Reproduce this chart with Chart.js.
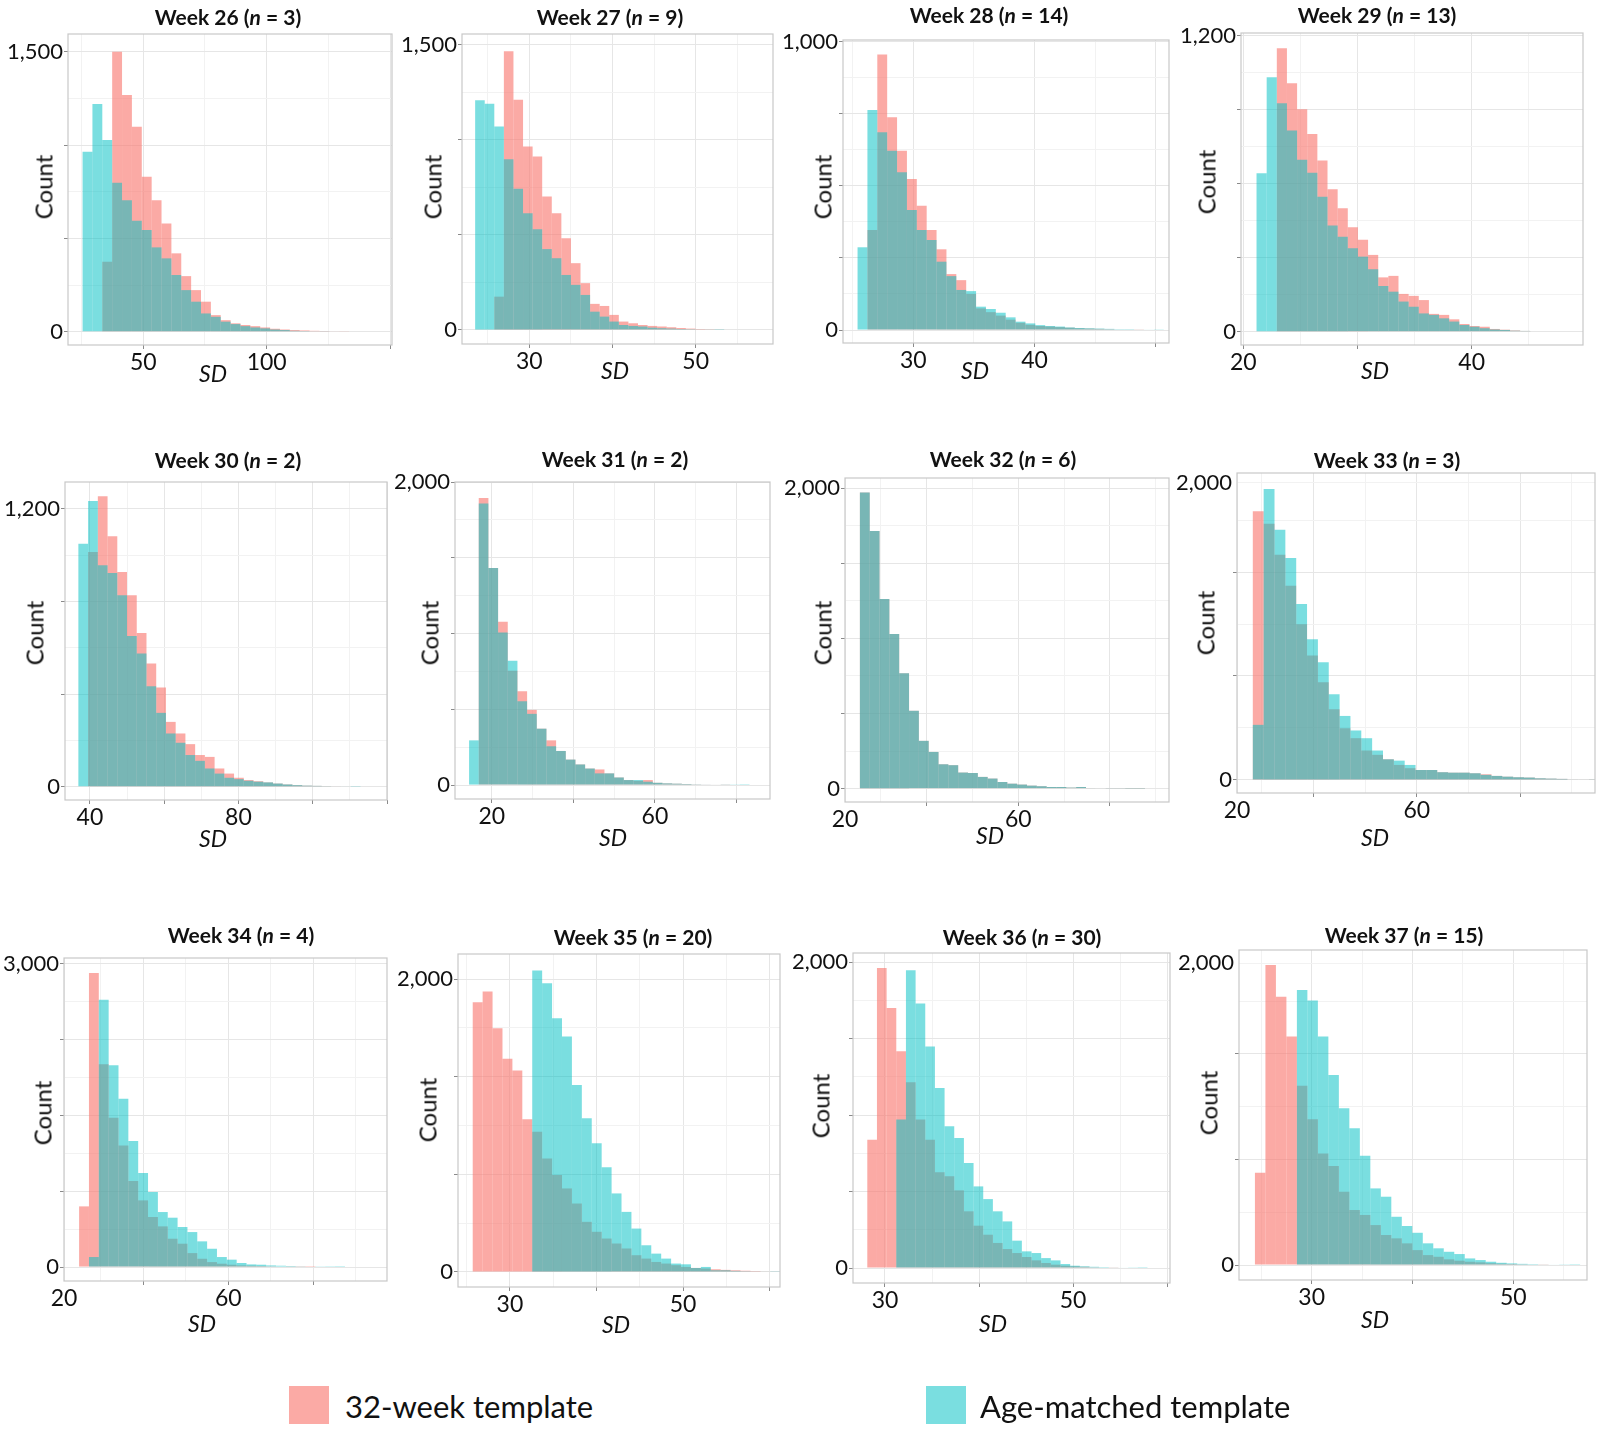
<!DOCTYPE html>
<html>
<head>
<meta charset="utf-8">
<script src="https://cdn.jsdelivr.net/npm/chart.js@4.4.1/dist/chart.umd.min.js"></script>
<style>
  body { margin: 0; background: #fff; width: 1601px; height: 1429px; position: relative; overflow: hidden; font-family: Lato, "Open Sans", sans-serif; color: #111; }
  canvas { position: absolute; }
  .title { position: absolute; font-weight: bold; font-size: 21px; transform: translate(-50%, -50%); white-space: nowrap; }
  .ylab { position: absolute; font-size: 24px; transform: translate(-50%, -50%) rotate(-90deg); white-space: nowrap; }
  .xlab { position: absolute; font-size: 23px; font-style: italic; transform: translate(-50%, -50%); white-space: nowrap; }
  .key { position: absolute; width: 40px; height: 38px; }
  .ktext { position: absolute; font-size: 31px; transform: translateY(-50%); white-space: nowrap; }
</style>
</head>
<body>
<script>
// panels: gestational week and number of cases
const weeks = [26, 27, 28, 29, 30, 31, 32, 33, 34, 35, 36, 37];
const nCases = [3, 9, 14, 13, 2, 2, 6, 3, 4, 20, 30, 15];

// histogram bins (left edge of first bin, bin width), in SD units
const binStart = [25.4, 23.48, 25.4, 21.16, 36.9, 14.45, 25.45, 28.26, 24.86, 25.7, 28.12, 24.38];
const binWidth = [4.0, 1.152, 0.815, 0.888, 2.62, 2.37, 2.145, 2.1, 2.32, 1.146, 1.027, 1.04];

// counts per bin, 32-week template
const template32 = [
  [0, 0, 375, 1500, 1268, 1098, 830, 705, 580, 420, 298, 223, 161, 89, 62, 45, 36, 30, 23, 16, 12, 9, 7, 5, 4, 3, 2],
  [0, 0, 175, 1465, 1210, 965, 912, 702, 614, 482, 351, 246, 137, 126, 79, 44, 35, 26, 21, 18, 14, 10, 7, 5, 4, 3],
  [0, 347, 956, 738, 622, 524, 431, 347, 280, 194, 173, 125, 75, 62, 50, 36, 25, 18, 14, 12, 10, 8, 6, 5, 4, 3, 2, 2, 1],
  [0, 0, 1148, 1006, 901, 801, 693, 577, 500, 423, 372, 311, 220, 226, 153, 145, 128, 72, 68, 50, 31, 23, 20, 11, 8, 5, 3, 2],
  [0, 1013, 1253, 1081, 927, 826, 664, 532, 428, 280, 230, 184, 137, 129, 79, 57, 39, 29, 24, 19, 14, 10, 7, 5, 4, 3, 2],
  [0, 1895, 1432, 1078, 754, 619, 496, 372, 295, 225, 168, 136, 109, 103, 77, 50, 33, 28, 33, 15, 11, 9, 7, 5, 4, 3, 2],
  [1971, 1715, 1262, 1029, 767, 518, 318, 244, 162, 156, 107, 104, 78, 67, 44, 33, 27, 20, 16, 11, 11, 7, 11, 4, 3, 2, 2, 1, 1],
  [1809, 1726, 1517, 1308, 1049, 838, 658, 476, 348, 281, 198, 169, 139, 101, 79, 67, 67, 52, 49, 49, 45, 38, 27, 22, 18, 16, 11, 9, 7, 4, 3, 2],
  [600, 2908, 2005, 1477, 1203, 851, 659, 495, 402, 280, 231, 138, 82, 49, 33, 23, 16, 13, 10, 7, 5, 3, 2, 1],
  [1842, 1915, 1664, 1455, 1375, 1042, 958, 775, 661, 570, 467, 342, 274, 228, 194, 160, 114, 91, 68, 57, 46, 34, 27, 23, 18, 14, 11, 8, 6, 4, 3, 2],
  [840, 1963, 1701, 1418, 1215, 971, 840, 626, 600, 508, 371, 277, 218, 164, 124, 98, 72, 50, 33, 22, 15, 11, 8, 5, 3, 2],
  [612, 1989, 1779, 1514, 1189, 966, 740, 656, 486, 365, 332, 265, 199, 177, 144, 99, 66, 55, 38, 29, 22, 18, 12, 9, 7, 5, 3, 2]
];

// counts per bin, age-matched template
const ageMatched = [
  [964, 1220, 1027, 798, 705, 595, 545, 452, 393, 304, 223, 161, 98, 80, 54, 41, 30, 23, 18, 12, 9, 5, 4, 3, 2],
  [1207, 1189, 1070, 898, 742, 614, 530, 425, 377, 289, 237, 184, 96, 70, 44, 26, 21, 18, 12, 9, 7, 5, 4, 3, 2, 1],
  [287, 763, 686, 622, 547, 416, 347, 312, 237, 187, 139, 135, 81, 73, 60, 44, 29, 23, 17, 14, 12, 9, 7, 6, 5, 4, 3, 3, 2, 2, 1],
  [642, 1031, 925, 815, 696, 644, 547, 430, 385, 338, 304, 253, 185, 162, 122, 101, 74, 68, 54, 41, 27, 20, 14, 9, 7, 4, 3, 2],
  [1049, 1233, 956, 922, 826, 651, 575, 434, 319, 230, 190, 137, 112, 79, 57, 39, 33, 26, 22, 19, 14, 10, 7, 5, 4, 3, 2, 2, 1],
  [295, 1858, 1432, 1006, 820, 553, 470, 372, 256, 225, 168, 136, 109, 77, 77, 50, 33, 33, 22, 15, 11, 9, 7, 5, 4, 3, 2, 2, 1],
  [1971, 1715, 1262, 1029, 767, 518, 318, 244, 162, 156, 107, 104, 78, 67, 44, 33, 27, 20, 16, 11, 11, 7, 11, 4, 3, 2, 2, 1, 1],
  [371, 1959, 1685, 1494, 1184, 948, 793, 577, 431, 333, 281, 198, 139, 130, 101, 67, 67, 52, 49, 49, 45, 34, 27, 22, 18, 16, 11, 9, 7, 4, 3, 2],
  [0, 99, 2644, 1995, 1665, 1246, 930, 742, 544, 488, 396, 346, 254, 181, 99, 73, 40, 26, 23, 16, 13, 10, 7, 5, 3, 2, 1],
  [0, 0, 0, 0, 0, 0, 2059, 1972, 1733, 1607, 1277, 1049, 878, 714, 536, 410, 296, 182, 125, 91, 57, 52, 27, 34, 11, 11, 7, 5, 4, 3, 2, 1],
  [0, 0, 0, 971, 1948, 1730, 1450, 1178, 927, 851, 687, 534, 451, 371, 305, 179, 109, 98, 65, 50, 26, 15, 11, 8, 6, 4, 3, 2, 1],
  [0, 0, 0, 0, 1823, 1753, 1514, 1260, 1039, 906, 725, 508, 453, 320, 259, 214, 144, 111, 88, 73, 44, 33, 22, 15, 11, 8, 6, 4, 3, 2, 1]
];

// axes
const xRange = [[19.5, 150.8], [21.9, 59.3], [24.2, 51.1], [19.8, 49.75], [33.3, 120], [11, 88.2],
                [22.2, 92.9], [25.2, 94.5], [21.3, 97.4], [24, 61.2], [26.6, 60.3], [22.8, 57.3]];
const xStep = [25, 5, 5, 5, 10, 10, 10, 10, 10, 5, 5, 5];
const xMajor = [50, 10, 10, 10, 20, 20, 20, 20, 20, 10, 10, 10];
const xTickLabels = [[50, 100], [30, 50], [30, 40], [20, 40], [40, 80], [20, 60], [60], [60], [60], [30, 50], [30, 50], [30, 50]];
const xEdgeLabel = [null, null, null, null, null, null, '20', '20', '20', null, null, null];
const yRange = [[-71, 1595], [-74, 1556], [-45, 1006], [-54, 1210], [-57, 1315], [-92, 2000],
                [-89, 2067], [-88, 2067], [-138, 3056], [-103, 2171], [-98, 2061], [-99, 2088]];
const yTop = [1500, 1500, 1000, 1200, 1200, 2000, 2000, 2000, 3000, 2000, 2000, 2000];
const yStep = [250, 250, 125, 150, 200, 250, 250, 350, 375, 2000 / 6, 250, 350];
const yMajor = [500, 500, 250, 300, 400, 500, 500, 700, 750, 4000 / 6, 500, 700];

// where each panel sits on the page: plot box [left, top, right, bottom]
const plotBox = [
  [68, 34, 392, 345], [462, 34, 773, 344], [843, 40, 1169, 343], [1241, 33, 1583, 345],
  [65, 482, 387, 800], [455, 482, 770, 799], [845, 478, 1169, 802], [1237, 473, 1595, 793],
  [64, 958, 387, 1281], [458, 954, 780, 1287], [853, 953, 1170, 1283], [1239, 950, 1587, 1280]
];
const titlePos = [[228, 16], [610, 16], [989, 14], [1377, 14], [228, 459], [615, 458], [1003, 458], [1387, 459],
                  [241, 934], [633, 936], [1022, 936], [1404, 934]];
const countPos = [[43, 187], [432, 187], [822, 187], [1206, 182], [34, 633], [429, 633], [822, 633], [1205, 623],
                  [42, 1113], [427, 1110], [820, 1106], [1208, 1103]];
const sdPos = [[213, 373], [615, 370], [975, 370], [1375, 370], [213, 838], [613, 837], [990, 835], [1375, 837],
               [202, 1323], [616, 1324], [993, 1323], [1375, 1319]];

const SALMON = 'rgba(248,118,109,0.62)';
const TEAL = 'rgba(0,191,196,0.52)';

function gridValues(min, max, step) {
  const out = [];
  for (let k = Math.ceil(min / step - 1e-9); k * step <= max + 1e-9; k++) out.push(+(k * step).toFixed(6));
  return out;
}
const near = (a, b) => Math.abs(a - b) < 1e-6;
const isMajor = (v, m) => near(v / m, Math.round(v / m));

// panel border like ggplot
const framePlugin = {
  id: 'frame',
  afterDraw(chart) {
    const { ctx, chartArea: a } = chart;
    ctx.save();
    ctx.strokeStyle = '#c8c8c8';
    ctx.lineWidth = 1.2;
    ctx.strokeRect(a.left, a.top, a.right - a.left, a.bottom - a.top);
    ctx.restore();
  }
};

function addText(cls, html, x, y) {
  const d = document.createElement('div');
  d.className = cls;
  d.innerHTML = html;
  d.style.left = x + 'px';
  d.style.top = y + 'px';
  document.body.appendChild(d);
}

const PAD_L = 70, PAD_T = 20, PAD_R = 10, PAD_B = 32;

weeks.forEach((wk, p) => {
  const [L, T, R, B] = plotBox[p];
  const canvas = document.createElement('canvas');
  canvas.width = R - L + PAD_L + PAD_R;
  canvas.height = B - T + PAD_T + PAD_B;
  canvas.style.left = (L - PAD_L) + 'px';
  canvas.style.top = (T - PAD_T) + 'px';
  document.body.appendChild(canvas);

  const toPoints = arr => arr.map((y, i) => ({ x: binStart[p] + (i + 0.5) * binWidth[p], y: y }));

  new Chart(canvas, {
    type: 'bar',
    data: {
      datasets: [
        { label: 'Age-matched template', data: toPoints(ageMatched[p]), backgroundColor: TEAL, order: 0 },
        { label: '32-week template', data: toPoints(template32[p]), backgroundColor: SALMON, order: 1 }
      ]
    },
    options: {
      responsive: false,
      animation: false,
      devicePixelRatio: 1,
      layout: { padding: { left: 0, top: PAD_T, right: PAD_R, bottom: 0 } },
      datasets: { bar: { grouped: false, barPercentage: 1, categoryPercentage: 1, borderWidth: 0, inflateAmount: 0 } },
      plugins: { legend: { display: false }, tooltip: { enabled: false } },
      scales: {
        x: {
          type: 'linear',
          min: xRange[p][0],
          max: xRange[p][1],
          offset: false,
          afterBuildTicks(axis) {
            const t = gridValues(xRange[p][0], xRange[p][1], xStep[p]);
            if (xEdgeLabel[p]) t.unshift(xRange[p][0]);
            axis.ticks = t.map(v => ({ value: v }));
          },
          afterFit(scale) { scale.height = PAD_B; },
          border: { display: false },
          grid: {
            offset: false,
            tickLength: 4,
            color: c => isMajor(c.tick.value, xMajor[p]) ? '#e6e6e6' : '#f2f2f2',
            tickColor: c => isMajor(c.tick.value, xMajor[p]) ? '#8a8a8a' : 'rgba(0,0,0,0)'
          },
          ticks: {
            autoSkip: false, maxRotation: 0, minRotation: 0, padding: 0,
            color: '#111',
            font: { family: 'Lato', size: 23 },
            callback(value) {
              if (xEdgeLabel[p] && near(value, xRange[p][0])) return xEdgeLabel[p];
              return xTickLabels[p].some(v => near(v, value)) ? String(value) : '';
            }
          }
        },
        y: {
          min: yRange[p][0],
          max: yRange[p][1],
          afterBuildTicks(axis) {
            const t = gridValues(0, yRange[p][1], yStep[p]);
            if (!t.some(v => near(v, yTop[p]))) t.push(yTop[p]);
            t.sort((a, b) => a - b);
            axis.ticks = t.map(v => ({ value: v }));
          },
          afterFit(scale) { scale.width = PAD_L; },
          border: { display: false },
          grid: {
            tickLength: 4,
            color: c => isMajor(c.tick.value, yMajor[p]) ? '#e6e6e6' : '#f2f2f2',
            tickColor: c => isMajor(c.tick.value, yMajor[p]) ? '#8a8a8a' : 'rgba(0,0,0,0)'
          },
          ticks: {
            autoSkip: false, padding: 1,
            color: '#111',
            font: { family: 'Lato', size: 22 },
            callback(value) {
              return (near(value, 0) || near(value, yTop[p])) ? Math.round(value).toLocaleString('en-US') : '';
            }
          }
        }
      }
    },
    plugins: [framePlugin]
  });

  addText('title', 'Week ' + wk + ' (<i>n</i> = ' + nCases[p] + ')', titlePos[p][0], titlePos[p][1]);
  addText('ylab', 'Count', countPos[p][0], countPos[p][1]);
  addText('xlab', 'SD', sdPos[p][0], sdPos[p][1]);
});

// legend
const legendItems = [
  { label: '32-week template', color: SALMON, box: [289, 1386], text: [345, 1406] },
  { label: 'Age-matched template', color: TEAL, box: [926, 1386], text: [980, 1406] }
];
legendItems.forEach(item => {
  const k = document.createElement('div');
  k.className = 'key';
  k.style.left = item.box[0] + 'px';
  k.style.top = item.box[1] + 'px';
  k.style.background = item.color;
  document.body.appendChild(k);
  addText('ktext', item.label, item.text[0], item.text[1]);
});
</script>
</body>
</html>
